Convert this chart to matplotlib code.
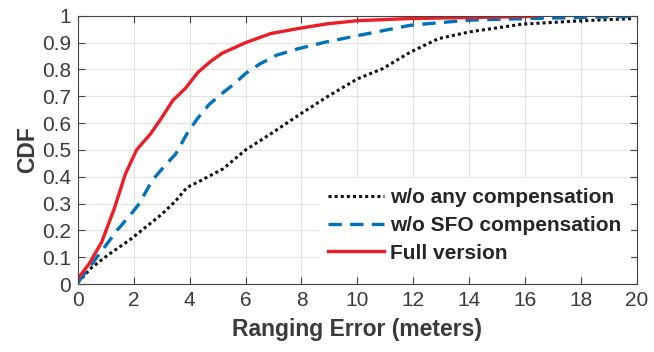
import matplotlib
matplotlib.use("Agg")
import matplotlib.pyplot as plt

# CDF curves (x = ranging error in meters)
x_none = [0, 0.5, 1.1, 1.9, 2.4, 3.0, 3.5, 3.9, 4.4, 5.2, 6.0, 6.9, 7.9, 8.9,
          10.0, 10.9, 11.9, 12.9, 14.0, 15.9, 17.9, 19.9]
cdf_none = [0.006, 0.062, 0.11, 0.168, 0.21, 0.26, 0.31, 0.36, 0.386, 0.43, 0.5,
            0.56, 0.63, 0.697, 0.765, 0.803, 0.865, 0.915, 0.94, 0.969, 0.981, 0.99]

x_sfo = [0, 0.9, 1.4, 1.9, 2.2, 2.65, 3.1, 3.5, 3.9, 4.3, 4.7, 5.15, 5.6, 6.0,
         6.5, 7.1, 7.9, 8.9, 10.0, 11.9, 14.0, 16.1, 19.9]
cdf_sfo = [0.006, 0.13, 0.2, 0.26, 0.3, 0.385, 0.44, 0.485, 0.56, 0.62, 0.67,
           0.71, 0.747, 0.785, 0.82, 0.853, 0.878, 0.903, 0.926, 0.965, 0.984,
           0.99, 0.998]

x_full = [0, 0.4, 0.85, 1.3, 1.7, 2.1, 2.6, 3.0, 3.4, 3.85, 4.3, 4.75, 5.15,
          6.0, 6.9, 7.9, 8.9, 10.0, 11.9, 16.4]
cdf_full = [0.02, 0.075, 0.156, 0.28, 0.41, 0.5, 0.56, 0.62, 0.685, 0.73, 0.79,
            0.83, 0.86, 0.9, 0.934, 0.953, 0.97, 0.982, 0.99, 0.998]

labels = ["w/o any compensation", "w/o SFO compensation", "Full version"]

plt.rcParams['font.family'] = ['Liberation Sans', 'DejaVu Sans']

fig = plt.figure(figsize=(6.54, 3.52), dpi=100)
ax = fig.add_axes([0.119, 0.193, 0.855, 0.762])

ax.plot(x_none, cdf_none, color='#111111', ls=(0, (1, 1)), lw=2.2, label=labels[0])
ax.plot(x_sfo, cdf_sfo, color='#0072BD', ls=(0, (4, 2.5)), lw=2.4, label=labels[1])
ax.plot(x_full, cdf_full, color='#EE1C25', ls='-', lw=2.4, label=labels[2])

ax.set_xlim(0, 20)
ax.set_ylim(0, 1)
ax.set_xticks(range(0, 21, 2))
ax.set_yticks([i / 10 for i in range(11)])
ax.set_yticklabels(['0'] + [f'0.{i}' for i in range(1, 10)] + ['1'])

ax.grid(True, color='#e3e3e3', lw=0.8)
ax.set_axisbelow(True)
ax.tick_params(direction='in', top=True, right=True, length=5, width=0.8,
               colors='#444444', labelsize=15, labelcolor='#3a3a3a', pad=5)
for sp in ax.spines.values():
    sp.set_color('#444444')
    sp.set_linewidth(0.8)

ax.set_xlabel('Ranging Error (meters)', fontsize=16.5, fontweight='bold',
              color='#3a3a3a', labelpad=6)
ax.set_ylabel('CDF', fontsize=16.5, fontweight='bold', color='#3a3a3a', labelpad=2)

leg = ax.legend(loc='lower right', frameon=True, fancybox=False, framealpha=1,
                edgecolor='white', prop={'weight': 'bold', 'size': 15},
                handlelength=2.7, handletextpad=0.3, labelspacing=0.42,
                borderpad=0.4, borderaxespad=0.2, bbox_to_anchor=(0.995, 0.033))
for t in leg.get_texts():
    t.set_color('#262626')

fig.savefig('out.png', dpi=100)
